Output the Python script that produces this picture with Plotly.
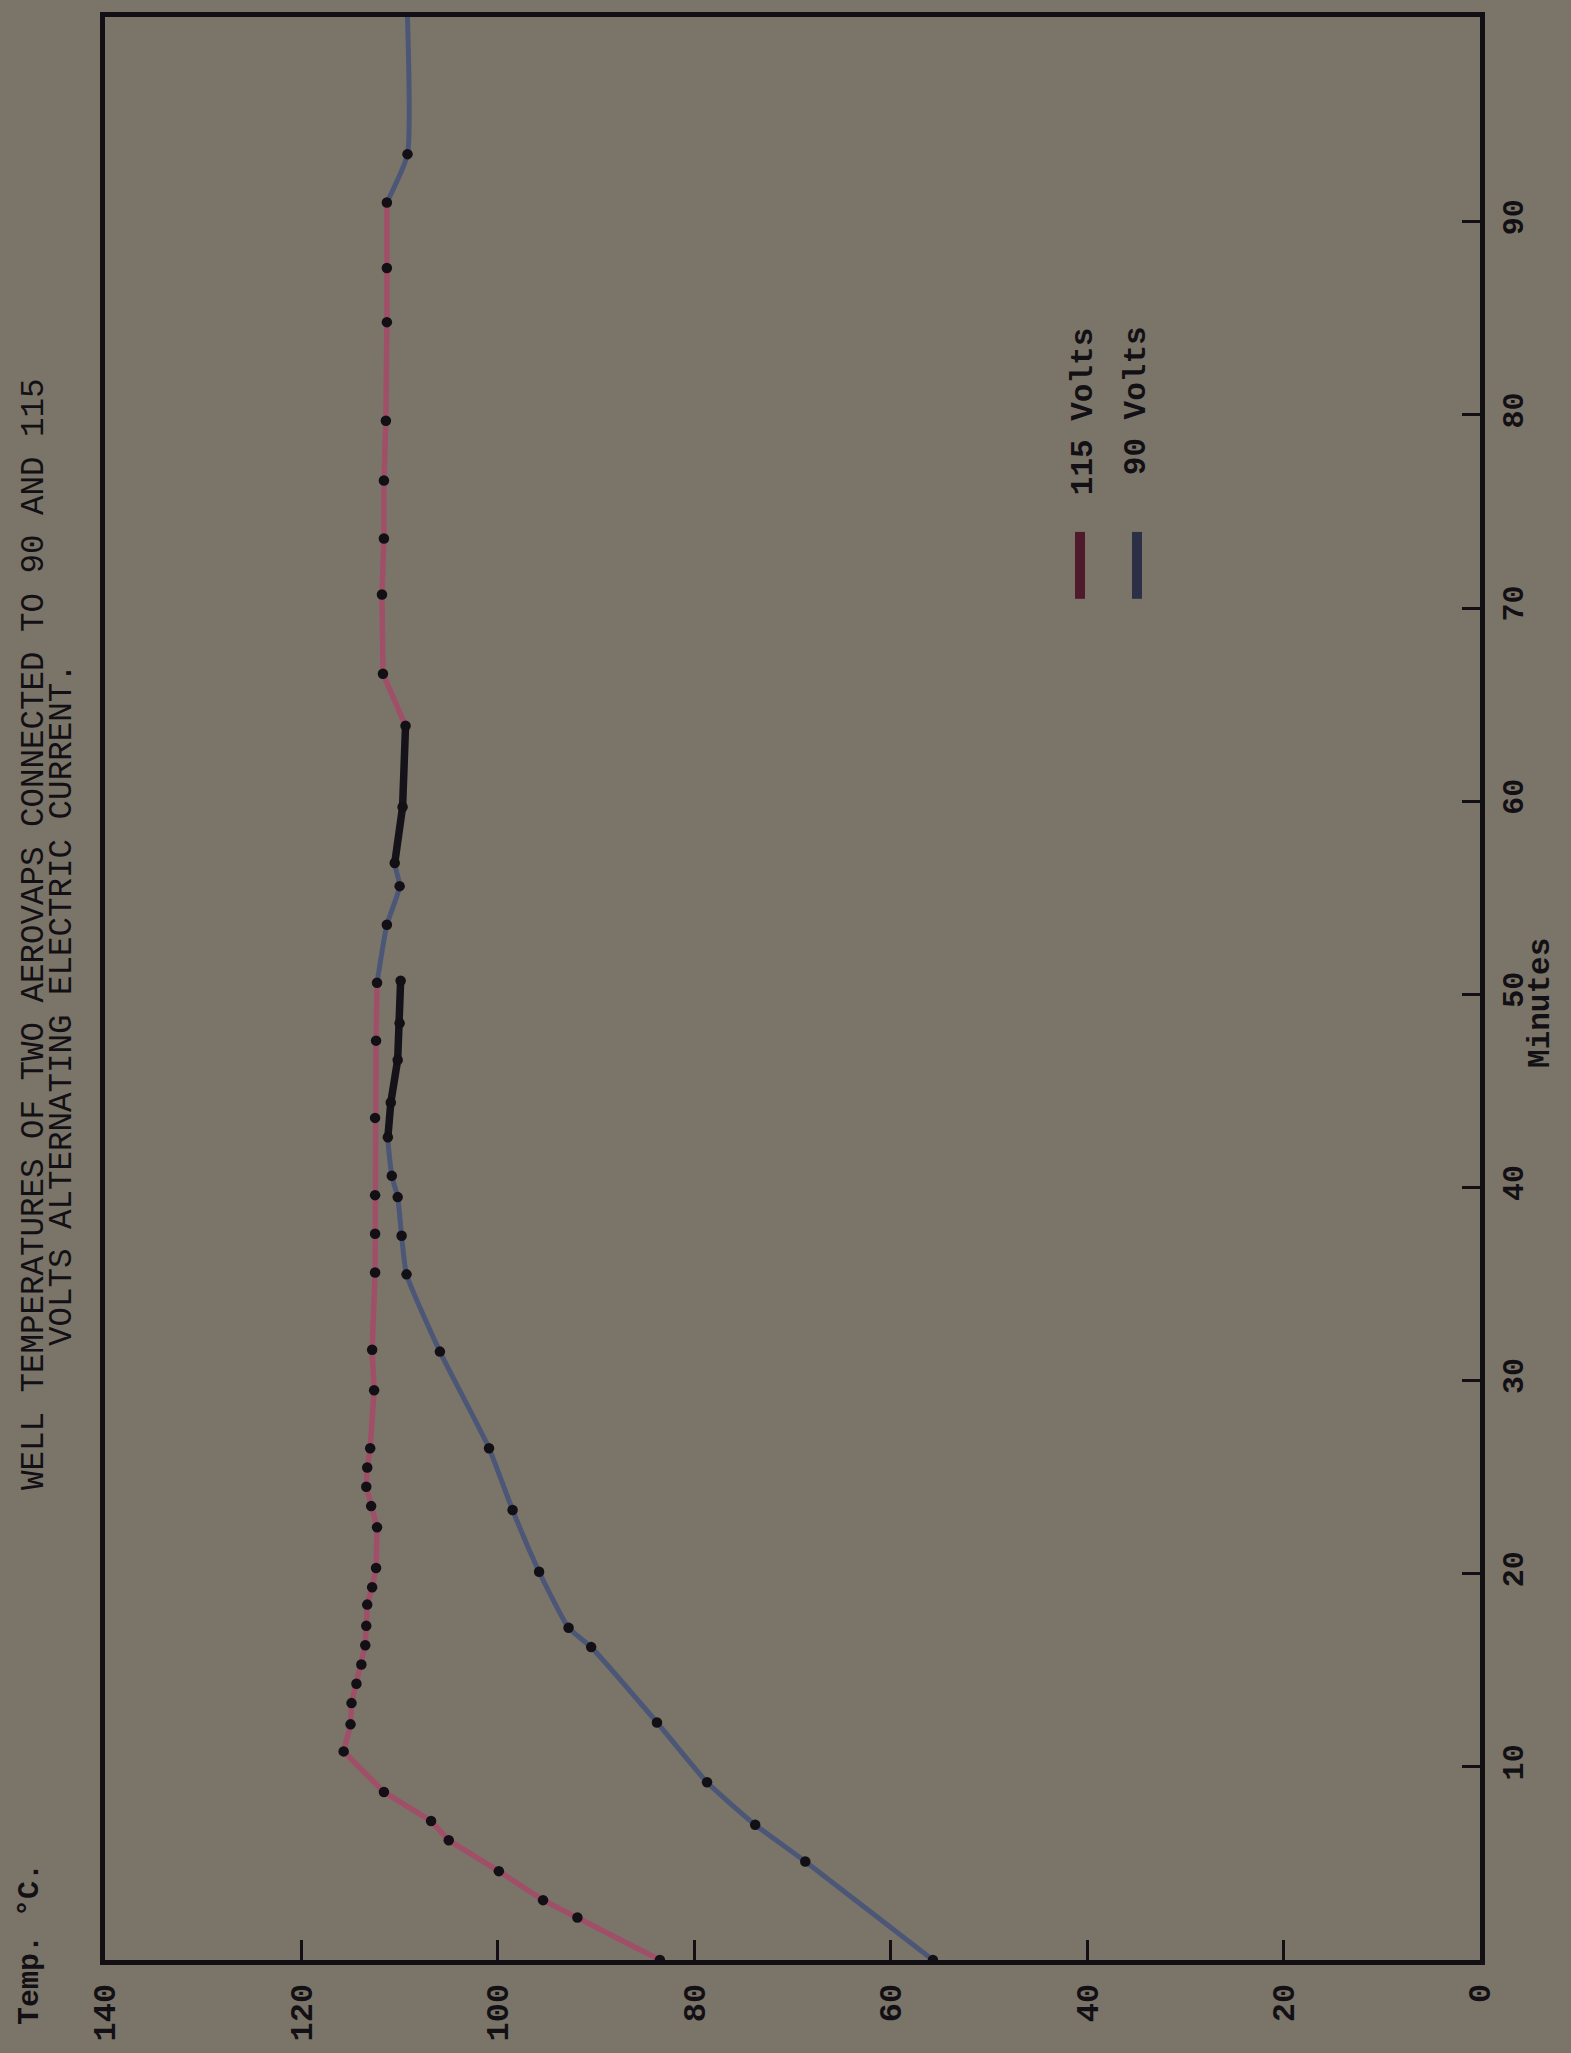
import plotly.graph_objects as go

# ---------------- data (minutes, temperature °C) ----------------
# 115 Volts curve (red)
red_min_a = [0, 2.2, 3.1, 4.6, 6.2, 7.2, 8.7, 10.8, 12.2, 13.3, 14.3, 15.3, 16.3, 17.3,
             18.4, 19.3, 20.3, 22.4, 23.5, 24.5, 25.5, 26.5, 29.5, 31.6, 35.6, 37.6,
             39.6, 43.6, 47.6, 50.6]
red_temp_a = [83.5, 91.9, 95.4, 99.9, 105.0, 106.8, 111.6, 115.7, 115.0, 114.9, 114.4,
              113.9, 113.5, 113.4, 113.3, 112.8, 112.4, 112.3, 112.9, 113.4, 113.3, 113.0,
              112.6, 112.8, 112.5, 112.5, 112.5, 112.5, 112.4, 112.3]
red_min_b = [63.9, 66.6, 70.7, 73.6, 76.6, 79.7, 84.8, 87.6, 91.0]
red_temp_b = [109.4, 111.7, 111.8, 111.6, 111.6, 111.4, 111.3, 111.3, 111.3]

# 90 Volts curve (blue)
blue_min_a = [0, 5.1, 7.0, 9.2, 12.3, 16.2, 17.2, 20.1, 23.3, 26.5, 31.5, 35.5, 37.5,
              39.5, 40.6, 42.6, 44.4, 46.6, 48.5, 50.7]
blue_temp_a = [55.7, 68.7, 73.8, 78.7, 83.8, 90.5, 92.8, 95.8, 98.5, 100.9, 105.9, 109.3,
               109.8, 110.2, 110.8, 111.2, 110.9, 110.2, 110.0, 109.9]
blue_min_b = [50.6, 53.6, 55.6, 56.8, 59.7, 63.9]
blue_temp_b = [112.3, 111.3, 110.0, 110.5, 109.7, 109.4]
blue_min_c = [91.0, 93.5, 100.6]
blue_temp_c = [111.3, 109.2, 109.2]

# heavy dark over-drawn strokes
dark_min = [42.6, 44.4, 46.6, 48.5, 50.7, None, 56.8, 59.7, 63.9]
dark_temp = [111.2, 110.9, 110.2, 110.0, 109.9, None, 110.5, 109.7, 109.4]

temp_ticks = [0, 20, 40, 60, 80, 100, 120, 140]
minute_ticks = [10, 20, 30, 40, 50, 60, 70, 80, 90]

title_line1 = "WELL TEMPERATURES OF TWO AEROVAPS CONNECTED TO 90 AND 115"
title_line2 = "VOLTS ALTERNATING ELECTRIC CURRENT."
legend_labels = ["115 Volts", "90 Volts"]

# ---------------- styling ----------------
W, H = 1571, 2053
L, R, T, B = 105, 91, 17, 89
PW, PH = W - L - R, H - T - B
BG = "#7b7569"
RED = "#a04f69"
BLUE = "#4c5777"
DARK = "#16121a"
INK = "#121014"
MONO = "Liberation Mono, Courier New, monospace"


def px(xp):
    return (xp - L) / PW


def py(yp):
    return (H - B - yp) / PH


fig = go.Figure()

# lines
fig.add_trace(go.Scatter(x=red_temp_a + [None] + red_temp_b, y=red_min_a + [None] + red_min_b,
                         mode="lines", line=dict(color=RED, width=5.5), name="115 Volts",
                         showlegend=False))
for tx, ty in [(blue_temp_a, blue_min_a), (blue_temp_b, blue_min_b), (blue_temp_c, blue_min_c)]:
    fig.add_trace(go.Scatter(x=tx, y=ty, mode="lines",
                             line=dict(color=BLUE, width=5, shape="spline", smoothing=0.5),
                             name="90 Volts", showlegend=False))
fig.add_trace(go.Scatter(x=dark_temp, y=dark_min, mode="lines",
                         line=dict(color=DARK, width=7.5), showlegend=False))

# reading dots
for tx, ty in [(red_temp_a, red_min_a), (red_temp_b[1:], red_min_b[1:]),
               (blue_temp_a, blue_min_a), (blue_temp_b[1:], blue_min_b[1:]),
               (blue_temp_c[1:2], blue_min_c[1:2])]:
    fig.add_trace(go.Scatter(x=tx, y=ty, mode="markers",
                             marker=dict(color=INK, size=10.5), showlegend=False))

# legend swatches
legend_colors = ["#4e1a2c", "#2c3046"]
legend_x = [1080, 1137]
shapes = []
for c, xp in zip(legend_colors, legend_x):
    shapes.append(dict(type="line", xref="paper", yref="paper",
                       x0=px(xp), x1=px(xp), y0=py(533), y1=py(600),
                       line=dict(color=c, width=10)))

annotations = [
    dict(text=title_line1, x=px(34), y=py(936), xref="paper", yref="paper",
         textangle=-90, showarrow=False, xanchor="center", yanchor="middle",
         font=dict(family=MONO, size=32.5, color=INK)),
    dict(text=title_line2, x=px(63), y=py(1007), xref="paper", yref="paper",
         textangle=-90, showarrow=False, xanchor="center", yanchor="middle",
         font=dict(family=MONO, size=32.5, color=INK)),
    dict(text="<b>Temp. °C.</b>", x=px(30), y=py(1948), xref="paper", yref="paper",
         textangle=-90, showarrow=False, xanchor="center", yanchor="middle",
         font=dict(family=MONO, size=30, color=INK)),
    dict(text="<b>Minutes</b>", x=px(1541), y=py(1005), xref="paper", yref="paper",
         textangle=-90, showarrow=False, xanchor="center", yanchor="middle",
         font=dict(family=MONO, size=31, color=INK)),
    dict(text=legend_labels[0], x=px(1083), y=py(413), xref="paper", yref="paper",
         textangle=-90, showarrow=False, xanchor="center", yanchor="middle",
         font=dict(family=MONO, size=31, color=INK, weight="bold")),
    dict(text=legend_labels[1], x=px(1136), y=py(402), xref="paper", yref="paper",
         textangle=-90, showarrow=False, xanchor="center", yanchor="middle",
         font=dict(family=MONO, size=31, color=INK, weight="bold")),
]

fig.update_layout(
    width=W, height=H,
    margin=dict(l=L, r=R, t=T, b=B, pad=0),
    paper_bgcolor=BG, plot_bgcolor=BG,
    shapes=shapes, annotations=annotations,
    showlegend=False,
)
fig.update_xaxes(
    range=[140, 0], tickvals=temp_ticks, ticktext=[str(v) for v in temp_ticks],
    tickangle=-90, ticks="inside", ticklen=20, tickwidth=3, tickcolor=INK,
    showline=True, linewidth=5, linecolor=INK, mirror=True,
    showgrid=False, zeroline=False, ticklabelstandoff=6,
    tickfont=dict(family=MONO, size=32, color=INK, weight="bold"),
)
fig.update_yaxes(
    range=[0, 100.6], tickvals=minute_ticks, ticktext=[str(v) for v in minute_ticks],
    side="right", tickangle=-90, ticks="inside", ticklen=18, tickwidth=3, tickcolor=INK,
    showline=True, linewidth=5, linecolor=INK, mirror=True,
    showgrid=False, zeroline=False, ticklabelstandoff=2,
    tickfont=dict(family=MONO, size=30, color=INK, weight="bold"),
)

fig.write_html("out.html")
